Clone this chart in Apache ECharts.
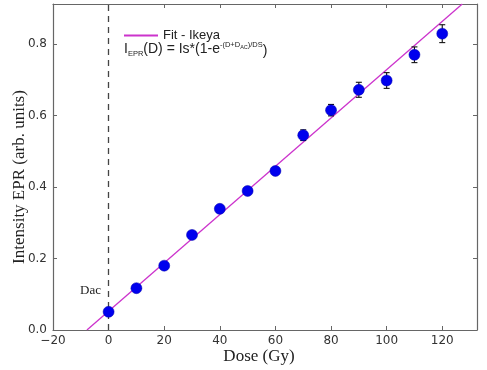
<!DOCTYPE html>
<html><head><meta charset="utf-8">
<script src="https://cdn.jsdelivr.net/npm/echarts@6/dist/echarts.min.js"></script>
<style>html,body{margin:0;padding:0;background:#fff}#c{width:487px;height:370px}</style>
</head><body><div id="c"></div>
<script>
const doses = [0, 10, 20, 30, 40, 50, 60, 70, 80, 90, 100, 110, 120];
const intensity = [0.051, 0.117, 0.180, 0.266, 0.339, 0.389, 0.445, 0.545, 0.615, 0.672, 0.698, 0.770, 0.829];
const errors = [0.008, 0.008, 0.008, 0.008, 0.009, 0.009, 0.010, 0.015, 0.016, 0.021, 0.022, 0.022, 0.025];
const fitDose = [-7.8, 127.2];
const fitValue = [0.0, 0.912];
const xTicks = [-20, 0, 20, 40, 60, 80, 100, 120];
const yTicks = [0.0, 0.2, 0.4, 0.6, 0.8];
const xTitle = 'Dose (Gy)';
const yTitle = 'Intensity EPR (arb. units)';

const chart = echarts.init(document.getElementById('c'));
const pts = doses.map((d, i) => [d, intensity[i]]);
const errData = doses.map((d, i) => [d, intensity[i] - errors[i], intensity[i] + errors[i]]);
const fitData = fitDose.map((d, i) => [d, fitValue[i]]);
const axisCol = '#666';
const xMin = -20, xMax = 132.5, yMin = 0, yMax = 0.912;
const serif = 'Liberation Serif, DejaVu Serif';

chart.setOption({
  animation: false,
  backgroundColor: '#fff',
  grid: { left: 53, right: 10, top: 4, bottom: 40, containLabel: false, outerBoundsMode: 'none' },
  legend: {
    data: ['Fit - Ikeya'], left: 119, top: 24, itemWidth: 34, itemHeight: 2, icon: 'rect',
    itemGap: 4, textStyle: { fontFamily: 'Liberation Sans, Arial', fontSize: 13, color: '#222' }
  },
  xAxis: [{
    type: 'value', min: xMin, max: xMax, interval: 20,
    axisLine: { onZero: false, lineStyle: { color: axisCol, width: 1.2 } },
    axisTick: { inside: true, length: 4, lineStyle: { color: axisCol } },
    axisLabel: { fontFamily: 'DejaVu Sans', fontSize: 12, color: '#333', margin: 5,
      formatter: v => xTicks.includes(v) ? String(v).replace('-', '\u2212') : '' },
    splitLine: { show: false }
  }, {
    type: 'value', position: 'top', min: xMin, max: xMax, interval: 20,
    axisLine: { onZero: false, lineStyle: { color: axisCol, width: 1.2 } },
    axisTick: { inside: true, length: 4, lineStyle: { color: axisCol } },
    axisLabel: { show: false }, splitLine: { show: false }
  }],
  yAxis: [{
    type: 'value', min: yMin, max: yMax, interval: 0.2,
    axisLine: { onZero: false, lineStyle: { color: axisCol, width: 1.2 } },
    axisTick: { inside: true, length: 4, lineStyle: { color: axisCol } },
    axisLabel: { fontFamily: 'DejaVu Sans', fontSize: 12, color: '#333', margin: 6,
      formatter: v => yTicks.some(t => Math.abs(t - v) < 1e-9) ? v.toFixed(1) : '' },
    splitLine: { show: false }
  }, {
    type: 'value', position: 'right', min: yMin, max: yMax, interval: 0.2,
    axisLine: { onZero: false, lineStyle: { color: axisCol, width: 1.2 } },
    axisTick: { inside: true, length: 4, lineStyle: { color: axisCol } },
    axisLabel: { show: false }, splitLine: { show: false }
  }],
  series: [{
    name: 'Fit - Ikeya', type: 'line', data: fitData, symbol: 'none',
    lineStyle: { color: '#cc33cc', width: 1.3 }, itemStyle: { color: '#cc33cc' }, z: 3,
    markLine: {
      silent: true, symbol: 'none', label: { show: false },
      lineStyle: { type: [6, 5], color: '#444', width: 1.3 },
      data: [{ xAxis: 0 }]
    }
  }, {
    name: 'err', type: 'custom', data: errData, z: 4,
    renderItem: (params, api) => {
      const x = api.value(0);
      const lo = api.coord([x, api.value(1)]);
      const hi = api.coord([x, api.value(2)]);
      const w = 3;
      const st = { stroke: '#111', lineWidth: 1.1 };
      return { type: 'group', children: [
        { type: 'line', shape: { x1: lo[0], y1: lo[1], x2: hi[0], y2: hi[1] }, style: st },
        { type: 'line', shape: { x1: lo[0] - w, y1: lo[1], x2: lo[0] + w, y2: lo[1] }, style: st },
        { type: 'line', shape: { x1: hi[0] - w, y1: hi[1], x2: hi[0] + w, y2: hi[1] }, style: st }
      ]};
    }
  }, {
    name: 'data', type: 'scatter', data: pts, symbol: 'circle', symbolSize: 11, z: 5,
    itemStyle: { color: '#0000ee', borderColor: '#0000aa', borderWidth: 0.5, opacity: 1 }
  }],
  graphic: [{
    type: 'text', left: 124, top: 41,
    style: {
      text: 'I{sub|EPR}(D) = Is*(1-e{sup|-(D+D}{supsub|AC}{sup|)/DS}{par|)}',
      fontFamily: 'Liberation Sans, Arial', fontSize: 14, fill: '#222',
      rich: {
        sub: { fontSize: 7.5, padding: [9, 0, 0, 0], fontFamily: 'Liberation Sans, Arial', fill: '#222' },
        sup: { fontSize: 7.5, padding: [0, 0, 8, 0], fontFamily: 'Liberation Sans, Arial', fill: '#222' },
        supsub: { fontSize: 5.5, padding: [0, 0, 4, 0], fontFamily: 'Liberation Sans, Arial', fill: '#222' },
        par: { fontSize: 14, padding: [4, 0, 0, 0], fontFamily: 'Liberation Sans, Arial', fill: '#222' }
      }
    }
  }, {
    type: 'text', left: 80, top: 284,
    style: { text: 'Dac', fontFamily: serif, fontSize: 13, fill: '#222' }
  }, {
    type: 'text', x: 20, y: 177, rotation: Math.PI / 2,
    style: { text: yTitle, fontFamily: serif, fontSize: 17, fill: '#222', align: 'center', verticalAlign: 'middle' }
  }, {
    type: 'text', x: 259, y: 357,
    style: { text: xTitle, fontFamily: serif, fontSize: 17, fill: '#222', align: 'center', verticalAlign: 'middle' }
  }]
});
</script></body></html>
